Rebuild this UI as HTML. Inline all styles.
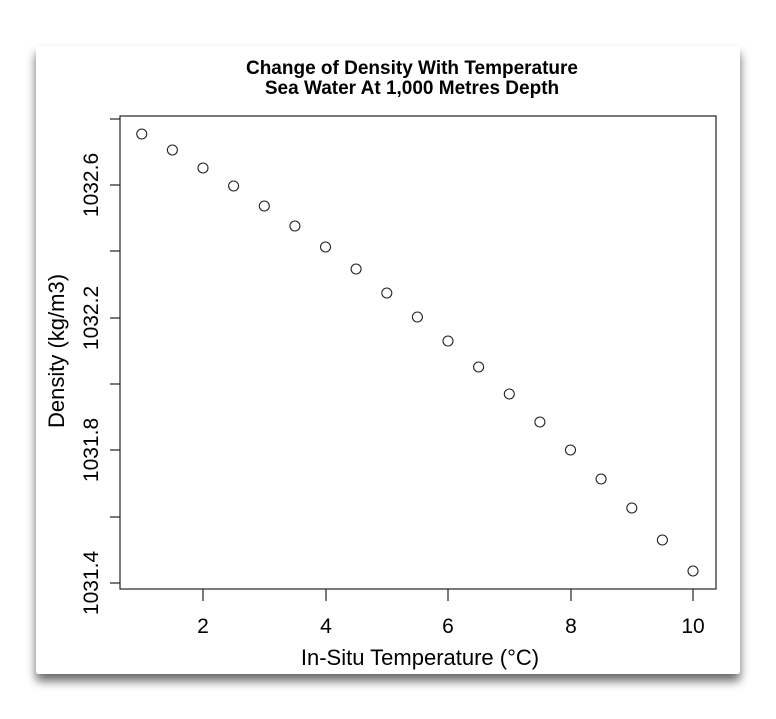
<!DOCTYPE html>
<html><head><meta charset="utf-8"><style>
html,body{margin:0;padding:0;background:#fff;}
svg{display:block;}
</style></head><body>
<svg width="776" height="719" xmlns="http://www.w3.org/2000/svg" font-family="Liberation Sans, sans-serif">
<defs>
<filter id="sh" x="-10%" y="-10%" width="120%" height="125%">
<feGaussianBlur in="SourceAlpha" stdDeviation="5"/>
<feOffset dx="0" dy="7"/>
<feComponentTransfer><feFuncA type="linear" slope="0.6"/></feComponentTransfer>
<feMerge><feMergeNode/><feMergeNode in="SourceGraphic"/></feMerge>
</filter>
</defs>
<rect x="36" y="46" width="704" height="628" rx="3" fill="#fff" filter="url(#sh)"/>
<text x="412" y="74" text-anchor="middle" font-size="19" font-weight="bold">Change of Density With Temperature</text>
<text x="412" y="94" text-anchor="middle" font-size="19" font-weight="bold">Sea Water At 1,000 Metres Depth</text>
<rect x="120" y="116" width="596" height="473" fill="none" stroke="#222" stroke-width="1.2"/>
<g stroke="#222" stroke-width="1.2">
<line x1="110" y1="583" x2="120" y2="583"/><line x1="110" y1="517" x2="120" y2="517"/>
<line x1="110" y1="450" x2="120" y2="450"/><line x1="110" y1="384" x2="120" y2="384"/>
<line x1="110" y1="318" x2="120" y2="318"/><line x1="110" y1="251" x2="120" y2="251"/>
<line x1="110" y1="185" x2="120" y2="185"/><line x1="110" y1="119" x2="120" y2="119"/>
<line x1="203" y1="589" x2="203" y2="601"/><line x1="326" y1="589" x2="326" y2="601"/>
<line x1="448" y1="589" x2="448" y2="601"/><line x1="571" y1="589" x2="571" y2="601"/>
<line x1="693" y1="589" x2="693" y2="601"/>
</g>
<g font-size="21" text-anchor="middle">
<text x="203" y="633">2</text><text x="326" y="633">4</text><text x="448" y="633">6</text>
<text x="571" y="633">8</text><text x="693" y="633">10</text>
<text transform="translate(98,583) rotate(-90)">1031.4</text>
<text transform="translate(98,450) rotate(-90)">1031.8</text>
<text transform="translate(98,318) rotate(-90)">1032.2</text>
<text transform="translate(98,185) rotate(-90)">1032.6</text>
<text x="420" y="665" font-size="22">In-Situ Temperature (°C)</text>
<text transform="translate(64,351) rotate(-90)" font-size="22">Density (kg/m3)</text>
</g>
<g fill="none" stroke="#222" stroke-width="1.1">
<circle cx="141.75" cy="134" r="5"/><circle cx="172.4" cy="150" r="5"/>
<circle cx="203" cy="168" r="5"/><circle cx="233.6" cy="186" r="5"/>
<circle cx="264.3" cy="206" r="5"/><circle cx="294.9" cy="226" r="5"/>
<circle cx="325.5" cy="247" r="5"/><circle cx="356.1" cy="269" r="5"/>
<circle cx="386.8" cy="293" r="5"/><circle cx="417.4" cy="317" r="5"/>
<circle cx="448" cy="341" r="5"/><circle cx="478.6" cy="367" r="5"/>
<circle cx="509.3" cy="394" r="5"/><circle cx="539.9" cy="422" r="5"/>
<circle cx="570.5" cy="450" r="5"/><circle cx="601.1" cy="479" r="5"/>
<circle cx="631.8" cy="508" r="5"/><circle cx="662.4" cy="540" r="5"/>
<circle cx="693" cy="571" r="5"/>
</g>
</svg>
</body></html>
